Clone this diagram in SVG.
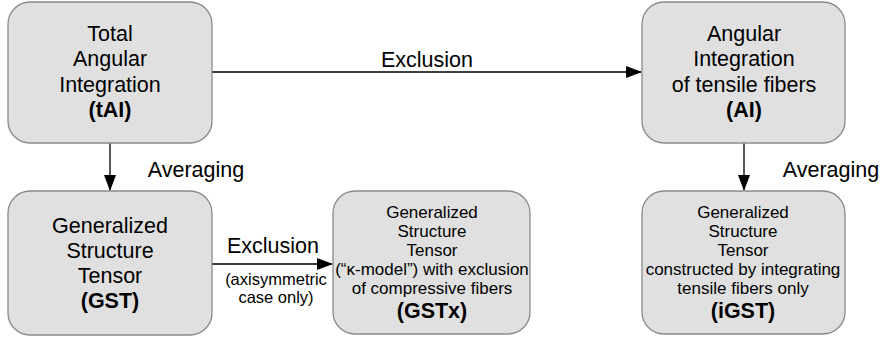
<svg xmlns="http://www.w3.org/2000/svg" width="885" height="340" viewBox="0 0 885 340">
<defs>
<style>
.box{fill:#e0e0e0;stroke:#8a8a8a;stroke-width:1.3}
.t{font-family:"Liberation Sans",Arial,sans-serif;fill:#000;text-anchor:middle}
.L{font-size:21.5px}
.S{font-size:17px}
.s{font-size:16.5px}
.b{font-weight:bold}
.c{stroke:#000;stroke-width:1.3;fill:none}
</style>
<marker id="ah" markerWidth="16" markerHeight="12" refX="15" refY="6" orient="auto" markerUnits="userSpaceOnUse">
<path d="M0,0 L16,6 L0,12 Z" fill="#000"/>
</marker>
</defs>
<rect width="885" height="340" fill="#fff"/>
<g id="connectors">
<line class="c" x1="212" y1="72" x2="641" y2="72" marker-end="url(#ah)"/>
<line class="c" x1="110" y1="143" x2="110" y2="190" marker-end="url(#ah)"/>
<line class="c" x1="744" y1="143" x2="744" y2="190" marker-end="url(#ah)"/>
<line class="c" x1="212" y1="264" x2="332" y2="264" marker-end="url(#ah)"/>
<text class="t L" x="427" y="67">Exclusion</text>
<text class="t L" x="196" y="177">Averaging</text>
<text class="t L" x="831" y="177">Averaging</text>
<text class="t L" x="273" y="253">Exclusion</text>
<text class="t s" x="276" y="285">(axisymmetric</text>
<text class="t s" x="276" y="303">case only)</text>
</g>
<g id="tAI">
<rect class="box" x="8" y="2" width="204" height="141" rx="22"/>
<text class="t L" x="110" y="41">Total</text>
<text class="t L" x="110" y="66">Angular</text>
<text class="t L" x="110" y="91.5">Integration</text>
<text class="t L b" x="110" y="117">(tAI)</text>
</g>
<g id="AI">
<rect class="box" x="642" y="2" width="203" height="141" rx="22"/>
<text class="t L" x="744" y="41">Angular</text>
<text class="t L" x="744" y="66">Integration</text>
<text class="t L" x="744" y="91.5">of tensile fibers</text>
<text class="t L b" x="744" y="117">(AI)</text>
</g>
<g id="GST">
<rect class="box" x="8" y="191" width="204" height="144" rx="22"/>
<text class="t L" x="110" y="233">Generalized</text>
<text class="t L" x="110" y="258">Structure</text>
<text class="t L" x="110" y="283">Tensor</text>
<text class="t L b" x="110" y="308">(GST)</text>
</g>
<g id="GSTx">
<rect class="box" x="333" y="191" width="197" height="143" rx="22"/>
<text class="t S" x="432" y="218">Generalized</text>
<text class="t S" x="432" y="237">Structure</text>
<text class="t S" x="432" y="256">Tensor</text>
<text class="t S" x="432" y="275">(“κ-model”) with exclusion</text>
<text class="t S" x="432" y="294">of compressive fibers</text>
<text class="t L b" x="432" y="318">(GSTx)</text>
</g>
<g id="iGST">
<rect class="box" x="642" y="191" width="203" height="143" rx="22"/>
<text class="t S" x="743" y="218">Generalized</text>
<text class="t S" x="743" y="237">Structure</text>
<text class="t S" x="743" y="256">Tensor</text>
<text class="t S" x="743" y="275">constructed by integrating</text>
<text class="t S" x="743" y="294">tensile fibers only</text>
<text class="t L b" x="743" y="318">(iGST)</text>
</g>
</svg>
